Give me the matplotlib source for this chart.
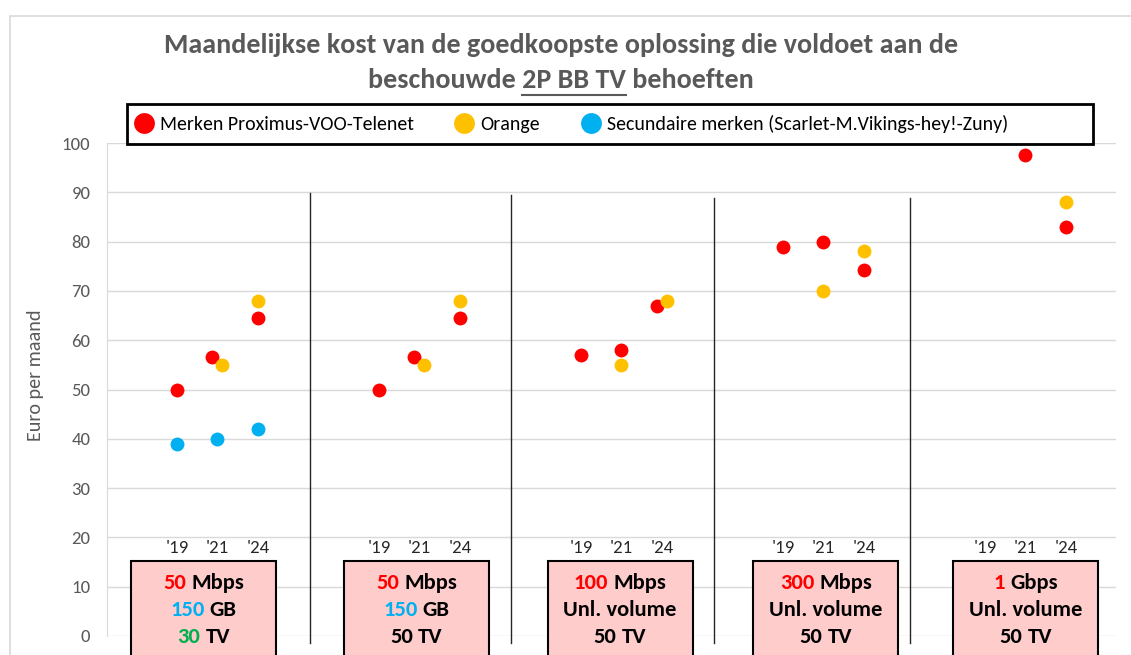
import numpy as np
import matplotlib.pyplot as plt
from matplotlib.patches import Rectangle
from matplotlib.lines import Line2D

W, H = 1131, 655
plt.rcParams['font.family'] = ['Carlito', 'Lato', 'DejaVu Sans']

# ---- data -------------------------------------------------------------
nan = np.nan
years = ["'19", "'21", "'24"]
# one row per offer profile, one column per year
red_vals = [[50, 56.5, 64.5],
            [50, 56.5, 64.5],
            [57, 58, 67],
            [79, 80, 74.3],
            [nan, 97.5, 83]]
orange_vals = [[nan, 55, 68],
               [nan, 55, 68],
               [nan, 55, 68],
               [nan, 70, 78],
               [nan, nan, 88]]
blue_vals = [[39, 40, 42],
             [nan, nan, nan],
             [nan, nan, nan],
             [nan, nan, nan],
             [nan, nan, nan]]

speed_num = ["50", "50", "100", "300", "1"]
speed_unit = ["Mbps", "Mbps", "Mbps", "Mbps", "Gbps"]
volume_num = ["150", "150", "", "", ""]
volume_txt = ["GB", "GB", "Unl. volume", "Unl. volume", "Unl. volume"]
tv_num = ["30", "50", "50", "50", "50"]
tv_highlight = [True, False, False, False, False]

labels = ["Merken Proximus-VOO-Telenet", "Orange",
          "Secundaire merken (Scarlet-M.Vikings-hey!-Zuny)"]

RED, ORANGE, BLUE, GREEN = "#FF0000", "#FFC000", "#00B0F0", "#00B050"
GREY = "#595959"

# ---- figure -----------------------------------------------------------
fig = plt.figure(figsize=(W / 100, H / 100), dpi=100)
ax = fig.add_axes([107 / W, 1 - 636 / H, (1116 - 107) / W, (636 - 143) / H])
ax.set_xlim(-0.546, 4.449)
ax.set_ylim(0, 100)
ax.set_yticks(np.arange(0, 101, 10))
ax.set_xticks([])
ax.tick_params(axis='y', length=0, pad=12, labelsize=13.5, labelcolor=GREY)
ax.grid(axis='y', color="#D9D9D9", lw=1)
ax.set_axisbelow(True)
for s in ['top', 'right', 'bottom']:
    ax.spines[s].set_visible(False)
ax.spines['left'].set_color("#D9D9D9")
ax.set_ylabel("Euro per maand", fontsize=14.5, color=GREY)
ax.yaxis.set_label_coords(-0.062, 0.53)

# outer chart frame (cropped)
fig.patches.append(Rectangle((10 / W, -0.1), 1.2, 1 - 16 / H + 0.1,
                             transform=fig.transFigure, fill=False,
                             ec="#D9D9D9", lw=1.2))

year_off = [-0.2, 0.0, 0.2]
pts = {'r': ([], []), 'o': ([], []), 'b': ([], [])}
for g in range(len(red_vals)):
    for k in range(3):
        r, o, b = red_vals[g][k], orange_vals[g][k], blue_vals[g][k]
        x = g + year_off[k]
        sh = 0.025 if (not np.isnan(r) and not np.isnan(o) and abs(r - o) < 2.5) else 0
        if not np.isnan(r):
            pts['r'][0].append(x - sh); pts['r'][1].append(r)
        if not np.isnan(o):
            pts['o'][0].append(x + sh); pts['o'][1].append(o)
        if not np.isnan(b):
            pts['b'][0].append(x); pts['b'][1].append(b)

ax.scatter(*pts['r'], s=100, color=RED, lw=0, zorder=4)
ax.scatter(*pts['o'], s=100, color=ORANGE, lw=0, zorder=4)
ax.scatter(*pts['b'], s=100, color=BLUE, lw=0, zorder=4)

# year labels under each group
for g in range(len(red_vals)):
    for k in range(3):
        ax.text(g + year_off[k], 17.9, years[k], ha='center', va='center',
                fontsize=13.5, color="#262626")

# separators between groups
sep_x = [0.46, 1.455, 2.46, 3.43]
sep_top = [89.9, 89.5, 88.8, 88.8]
for sx, st in zip(sep_x, sep_top):
    ax.plot([sx, sx], [st, -1.5], color="#262626", lw=1, clip_on=False, zorder=2)

# boxes with the needs profile
box_cx = [-0.068, 0.986, 1.994, 3.013, 4.003]
renderer = fig.canvas.get_renderer()
inv = ax.transData.inverted()


def two_tone(x, y, num, rest, numcolor, fs=16.2):
    # colored number followed by black text, centred on x
    full = (num + " " + rest) if num else rest
    t = ax.text(x, y, full, ha='center', va='center', fontsize=fs,
                fontweight='bold', alpha=0, zorder=6)
    bb = t.get_window_extent(renderer=renderer)
    x0 = inv.transform((bb.x0, 0))[0]
    x1 = inv.transform((bb.x1, 0))[0]
    if num:
        ax.text(x0, y, num, ha='left', va='center', fontsize=fs,
                fontweight='bold', color=numcolor, zorder=6, clip_on=False)
    ax.text(x1, y, rest, ha='right', va='center', fontsize=fs,
            fontweight='bold', color="black", zorder=6, clip_on=False)


for g, cx in enumerate(box_cx):
    ax.add_patch(Rectangle((cx - 0.359, -10), 0.718, 25.2, fc="#FFCCCC",
                           ec="black", lw=1.5, clip_on=False, zorder=5))
    two_tone(cx, 10.75, speed_num[g], speed_unit[g], RED)
    two_tone(cx, 5.27, volume_num[g], volume_txt[g], BLUE)
    two_tone(cx, -0.2, tv_num[g], "TV", GREEN if tv_highlight[g] else "black")

# legend
handles = [Line2D([], [], marker='o', ls='', color=c, markersize=15, mew=0)
           for c in (RED, ORANGE, BLUE)]
ax.legend(handles, labels, ncol=3, frameon=False, loc='center left',
          bbox_to_anchor=(134 / W, 1 - 124 / H), bbox_transform=fig.transFigure,
          fontsize=14.3, handlelength=1.0, handletextpad=0.3, columnspacing=2.05,
          borderpad=0, borderaxespad=0)
fig.patches.append(Rectangle((127 / W, 1 - 144 / H), (1093 - 127) / W, 40 / H,
                             transform=fig.transFigure, fill=False,
                             ec="black", lw=2))

# title, second line partly underlined
TFS = 20.2
fig.text(561 / W, 1 - 45 / H,
         "Maandelijkse kost van de goedkoopste oplossing die voldoet aan de",
         ha='center', va='center', fontsize=TFS, fontweight='bold', color=GREY)
line2 = "beschouwde 2P BB TV behoeften"
t2 = fig.text(561 / W, 1 - 80 / H, line2, ha='center', va='center',
              fontsize=TFS, fontweight='bold', color=GREY)
bb2 = t2.get_window_extent(renderer=renderer)
tmp = fig.text(0, 0, "beschouwde 2P BB TV", fontsize=TFS, fontweight='bold')
w_pre = tmp.get_window_extent(renderer=renderer).width
tmp.set_text("2P BB TV")
w_mid = tmp.get_window_extent(renderer=renderer).width
tmp.remove()
u1 = bb2.x0 + w_pre
u0 = u1 - w_mid
fig.add_artist(Line2D([u0 / W, u1 / W], [1 - 95 / H, 1 - 95 / H],
                      transform=fig.transFigure, color=GREY, lw=1.5))

fig.savefig("out.png", dpi=100)
